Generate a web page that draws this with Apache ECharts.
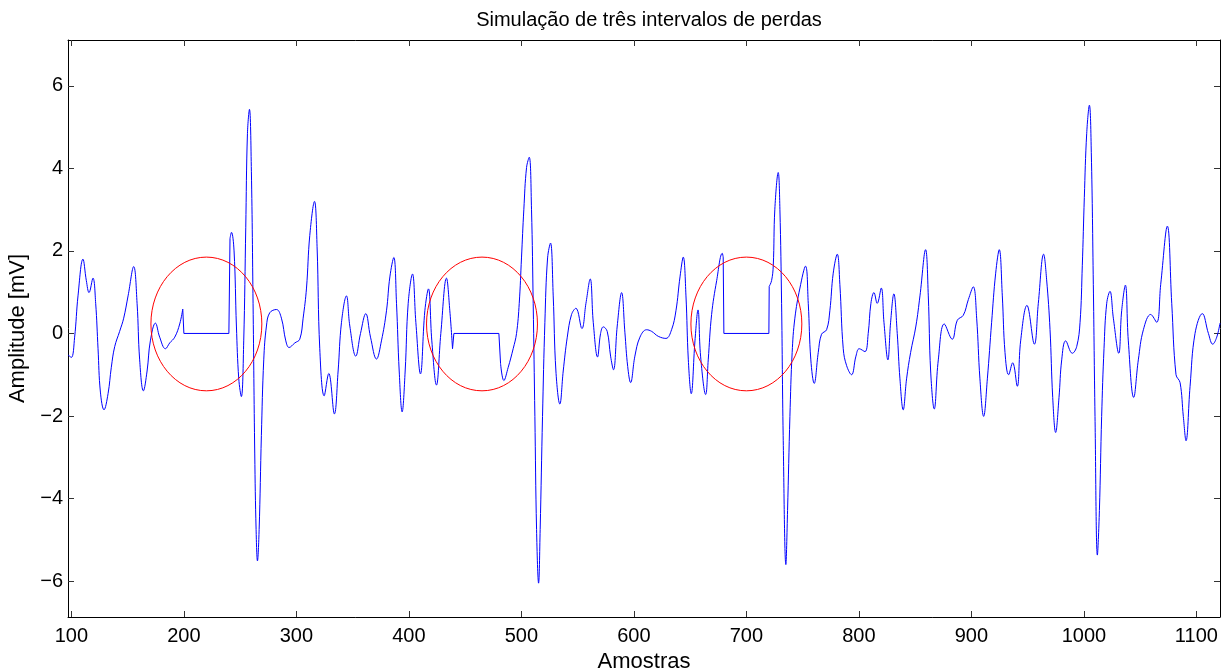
<!DOCTYPE html>
<html>
<head>
<meta charset="utf-8">
<script src="https://cdn.jsdelivr.net/npm/echarts@6.0.0/dist/echarts.min.js"></script>
<style>
  html, body { margin: 0; padding: 0; background: #fff; }
  #grafico { width: 1230px; height: 672px; }
</style>
</head>
<body>
<div id="grafico"></div>
<script>
// Sinal de ECG (amostra, mV) em trechos separados pelos intervalos de perda
const trechoA = [
  [97,-0.52],[100,-0.58],[102.9,-0.09],[105.9,0.91],[110.3,1.80],[113.3,1.28],[115.7,0.99],
  [119.2,1.34],[121.6,0.73],[123.7,-0.37],[125.8,-1.42],[129.0,-1.85],[132.6,-1.46],[135.5,-0.82],
  [138.5,-0.32],[142.9,0.05],[146.5,0.37],[150.4,0.91],[155.4,1.62],[158.4,0.73],[160.7,-0.64],
  [164.0,-1.39],[167.3,-0.91],[170.2,-0.18],[174.7,0.25],[178.5,-0.09],[183.6,-0.37],[187.4,-0.23],
  [191.9,-0.09],[196.3,0.23],[199.0,0.59]
];
const trechoB = [
  [241.0,2.30],[242.3,2.45],[244.6,2.00],[246.7,0.18],[248.8,-1.10],[251.1,-1.53],[253.2,-0.18],
  [255.0,2.56],[256.5,4.84],[258.3,5.43],[260.0,3.93],[261.5,0.73],[263.0,-2.92],[264.2,-4.75],
  [265.4,-5.51],[266.9,-4.75],[268.9,-2.47],[271.0,-0.64],[273.4,0.18],[276.3,0.50],[282.3,0.58],
  [286.7,0.37],[290.6,-0.18],[293.5,-0.34],[298.6,-0.23],[303.0,-0.14],[306.0,0.37],[309.0,1.10],
  [311.9,2.37],[316.1,3.20],[318.4,2.10],[320.8,-0.37],[324.7,-1.51],[328.8,-0.97],[333.8,-1.95],
  [337.1,-0.91],[340.1,0.27],[344.5,0.91],[347.5,0.18],[352.8,-0.55],[357.0,0.00],[361.7,0.48],
  [365.9,-0.09],[371.2,-0.62],[375.6,-0.18],[380.1,0.55],[383.1,1.37],[386.6,1.84],[389.0,0.73],
  [391.4,-0.91],[394.0,-1.90],[396.7,-0.91],[399.4,0.73],[403.2,1.44],[406.2,0.27],[410.3,-0.98],
  [414.2,0.55],[417.4,1.08],[420.4,-0.18],[424.5,-1.25],[428.4,0.00],[433.4,1.34],[436.4,0.55],
  [438.8,-0.37]
];
const trechoC = [
  [481.5,-0.73],[484.4,-1.14],[488.3,-0.82],[492.7,-0.37],[495.7,0.00],[498.1,0.73],[500.1,1.83],
  [502.2,3.01],[504.6,4.02],[507.0,4.27],[509.0,3.01],[510.5,0.73],[512.0,-2.01],[513.5,-4.75],
  [515.3,-6.05],[516.7,-4.75],[518.8,-2.01],[520.9,0.27],[523.3,1.83],[525.9,2.19],[528.3,0.91],
  [530.7,-0.91],[534.2,-1.71],[537.2,-0.91],[540.8,-0.09],[544.6,0.46],[548.5,0.61],[553.8,0.12],
  [557.4,0.73],[561.2,1.32],[563.9,0.27],[567.7,-0.57],[570.4,0.00],[572.8,0.16],[576.3,0.05],
  [579.3,-0.55],[581.9,-0.88],[585.2,0.18],[589.1,0.99],[592.0,0.03],[594.5,-0.80],[597.1,-1.19],
  [600.9,-0.55],[605.4,-0.09],[611.3,0.09],[615.8,0.05],[621.7,-0.07],[628.5,-0.12],[633.5,0.09],
  [637.4,0.55],[641.0,1.37],[643.9,1.85],[646.3,0.91],[648.4,-0.64],[651.0,-1.46],[654.3,-0.18],
  [657.0,0.57],[659.3,-0.55],[663.8,-1.48],[666.1,-0.64],[669.1,0.46],[673.6,1.28],[678.6,1.94],
  [679.4,1.85]
];
const trechoD = [
  [720.3,1.14],[722.4,1.28],[723.9,1.64],[725.3,3.01],[728.3,3.90],[729.8,3.01],[731.3,0.73],
  [732.7,-2.47],[735.1,-5.60],[736.6,-4.29],[738.7,-2.01],[740.7,-0.46],[743.1,0.37],[747.6,1.10],
  [752.6,1.63],[755.0,0.73],[757.3,-0.64],[760.3,-1.21],[763.9,-0.46],[766.8,-0.02],[771.3,0.09],
  [774.2,0.55],[777.2,1.46],[780.8,1.92],[783.1,1.19],[786.1,-0.37],[789.1,-0.78],[793.5,-1.00],
  [797.4,-0.55],[800.3,-0.37],[805.4,-0.44],[808.3,0.00],[810.7,0.73],[813.4,0.99],[816.3,0.73],
  [819.9,1.10],[822.3,0.27],[825.8,-0.64],[828.2,0.27],[831.1,0.96],[834.1,0.00],[836.5,-1.10],
  [839.4,-1.85],[842.4,-1.10],[846.0,-0.46],[850.7,0.18],[854.3,0.91],[859.3,2.03],[861.7,0.91],
  [863.8,-0.91],[867.0,-1.83],[870.6,-0.64],[875.9,0.23],[883.0,-0.14],[887.5,0.32],[892.8,0.44],
  [897.3,0.82],[901.7,1.13],[904.7,0.37],[907.6,-1.10],[910.9,-2.01],[914.2,-1.10],[918.0,0.27],
  [921.6,1.46],[924.8,2.03],[927.5,0.91],[929.9,-0.46],[933.1,-1.00],[936.7,-0.71],[940.8,-1.28],
  [943.8,-0.18],[949.4,0.68],[956.0,-0.26],[959.5,0.73],[964.2,1.92],[966.9,1.30],[969.9,0.10],
  [972.3,-1.55],[974.9,-2.40],[977.9,-1.55],[980.3,-0.64],[983.8,-0.18],[989.7,-0.48],[993.6,-0.32],
  [996.6,0.27],[998.6,1.64],[1000.4,3.29],[1002.5,4.84],[1004.9,5.53],[1006.6,4.38],[1008.4,1.19],
  [1009.9,-2.01],[1012.0,-5.37],[1013.8,-4.29],[1015.8,-2.01],[1017.9,-0.37],[1020.3,0.73],
  [1023.2,1.02],[1026.2,0.37],[1031.0,-0.48],[1033.6,0.55],[1036.9,1.17],[1039.5,-0.18],
  [1044.3,-1.55],[1048.4,-0.64],[1052.9,0.09],[1059.4,0.46],[1064.7,0.27],[1068.3,1.19],
  [1074.2,2.60],[1078.1,0.73],[1081.9,-1.00],[1085.5,-1.19],[1088.4,-2.01],[1090.8,-2.60],
  [1094.4,-1.28],[1098.8,0.00],[1105.3,0.48],[1110.7,0.00],[1114.5,-0.26],[1118.1,-0.09],[1121,0.25]
];

// Intervalos de perda (amostras zeradas) e círculos que os destacam
const intervalosPerda = [[200, 240], [440, 480], [680, 720]];
const centrosCirculos = [220, 465, 700];
const circuloCentroY = 0.23;
const circuloRaioX = 49.3;   // em amostras
const circuloRaioY = 1.62;   // em mV

// Escalas e marcas dos eixos
const limitesX = [97, 1121];
const limitesY = [-6.87, 7.11];
const marcasX = [100, 200, 300, 400, 500, 600, 700, 800, 900, 1000, 1100];
const marcasY = [-6, -4, -2, 0, 2, 4, 6];

const fonte = '"Liberation Sans", Arial, Helvetica, sans-serif';
const azul = '#0000ff';

const trechos = [trechoA, trechoB, trechoC, trechoD];

const seriesSinal = trechos.map(t => ({
  type: 'line', data: t, smooth: 0.4, showSymbol: false,
  lineStyle: { color: azul, width: 1 }, silent: true, z: 2
}));

// Trechos planos: ligam o fim de um trecho ao início do seguinte passando por zero
const seriesPerda = intervalosPerda.map((iv, i) => ({
  type: 'line',
  data: [trechos[i][trechos[i].length - 1], [iv[0], 0], [iv[1], 0], trechos[i + 1][0]],
  smooth: false, showSymbol: false,
  lineStyle: { color: azul, width: 1 }, silent: true, z: 2
}));

const serieCirculos = {
  type: 'custom',
  data: centrosCirculos.map(c => [c, circuloCentroY]),
  z: 3, silent: true,
  renderItem: (params, api) => {
    const c = api.coord([api.value(0), api.value(1)]);
    const s = api.size([circuloRaioX, circuloRaioY]);
    return {
      type: 'ellipse',
      shape: { cx: c[0], cy: c[1], rx: s[0], ry: s[1] },
      style: { fill: 'none', stroke: '#ff0000', lineWidth: 1 }
    };
  }
};

const linhaEixo = { show: true, onZero: false, lineStyle: { color: '#000', width: 1 } };
const tickX = { show: true, inside: true, length: 6, customValues: marcasX, lineStyle: { color: '#333' } };
const tickY = { show: true, inside: true, length: 6, customValues: marcasY, lineStyle: { color: '#333' } };

const grafico = echarts.init(document.getElementById('grafico'));
grafico.setOption({
  animation: false,
  backgroundColor: '#fff',
  title: {
    text: 'Simulação de três intervalos de perdas',
    left: 644, top: 5, textAlign: 'center',
    textStyle: { fontFamily: fonte, fontSize: 20, fontWeight: 'normal', color: '#000' }
  },
  grid: { left: 68, top: 40, right: 10, bottom: 55, containLabel: false, outerBoundsMode: 'none' },
  xAxis: [
    {
      type: 'value', position: 'bottom', min: limitesX[0], max: limitesX[1],
      axisLine: linhaEixo, axisTick: tickX, splitLine: { show: false },
      axisLabel: {
        customValues: marcasX, fontFamily: fonte, fontSize: 20, color: '#000', margin: 9,
        formatter: v => String(v)
      },
      name: 'Amostras', nameLocation: 'middle', nameGap: 23,
      nameTextStyle: { fontFamily: fonte, fontSize: 22, color: '#000' }
    },
    {
      type: 'value', position: 'top', min: limitesX[0], max: limitesX[1],
      axisLine: linhaEixo, axisTick: tickX, splitLine: { show: false },
      axisLabel: { show: false }
    }
  ],
  yAxis: [
    {
      type: 'value', position: 'left', min: limitesY[0], max: limitesY[1],
      axisLine: linhaEixo, axisTick: tickY, splitLine: { show: false },
      axisLabel: {
        customValues: marcasY, fontFamily: fonte, fontSize: 20, color: '#000', margin: 5,
        formatter: v => String(v).replace('-', '\u2212')
      },
      name: 'Amplitude [mV]', nameLocation: 'middle', nameGap: 25,
      nameTextStyle: { fontFamily: fonte, fontSize: 22, color: '#000' }
    },
    {
      type: 'value', position: 'right', min: limitesY[0], max: limitesY[1],
      axisLine: linhaEixo, axisTick: tickY, splitLine: { show: false },
      axisLabel: { show: false }
    }
  ],
  series: [...seriesSinal, ...seriesPerda, serieCirculos]
});
</script>
</body>
</html>
